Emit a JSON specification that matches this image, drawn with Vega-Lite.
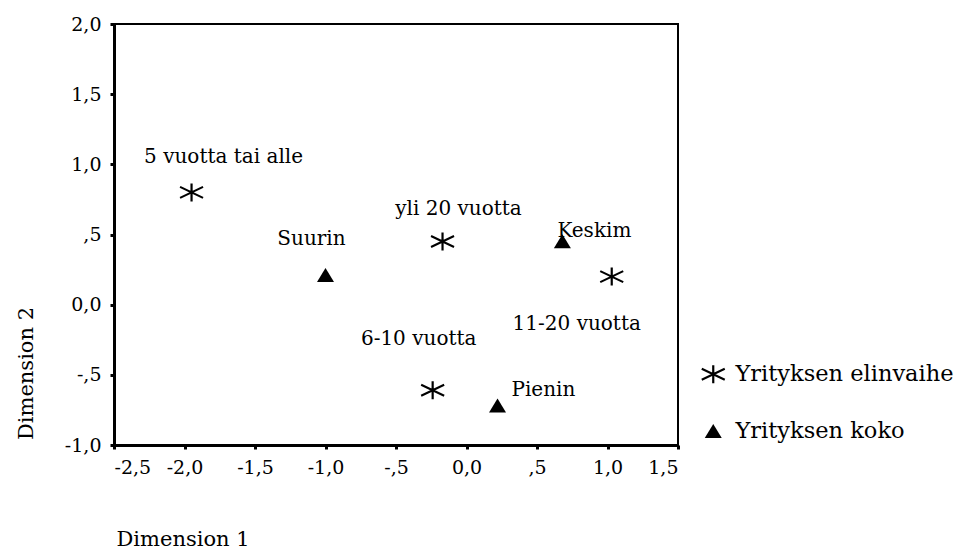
{
  "$schema": "https://vega.github.io/schema/vega-lite/v6.json",
  "autosize": {"type": "none"},
  "width": 564,
  "height": 421,
  "padding": {"left": 114, "top": 24, "right": 289, "bottom": 104},
  "background": "white",
  "config": {
    "view": {"stroke": "black", "strokeWidth": 2},
    "font": "DejaVu Serif",
    "axis": {
      "grid": false,
      "domainColor": "black",
      "domainWidth": 3,
      "tickColor": "black",
      "tickSize": 4,
      "tickWidth": 3,
      "labelFont": "DejaVu Serif",
      "labelFontSize": 19,
      "labelColor": "black",
      "labelPadding": 9,
      "titleFont": "DejaVu Serif",
      "titleFontSize": 21,
      "titleFontWeight": "normal",
      "titleColor": "black"
    },
    "legend": {
      "labelFont": "DejaVu Serif",
      "labelFontSize": 22.5,
      "labelColor": "black",
      "labelLimit": 400,
      "padding": 0
    }
  },
  "data": {
    "values": [
      {"label": "5 vuotta tai alle", "ryhma": "Yrityksen elinvaihe", "dim1": -1.95, "dim2": 0.8},
      {"label": "6-10 vuotta", "ryhma": "Yrityksen elinvaihe", "dim1": -0.24, "dim2": -0.61},
      {"label": "11-20 vuotta", "ryhma": "Yrityksen elinvaihe", "dim1": 1.03, "dim2": 0.2},
      {"label": "yli 20 vuotta", "ryhma": "Yrityksen elinvaihe", "dim1": -0.17, "dim2": 0.45},
      {"label": "Suurin", "ryhma": "Yrityksen koko", "dim1": -1.0, "dim2": 0.21},
      {"label": "Keskim", "ryhma": "Yrityksen koko", "dim1": 0.68, "dim2": 0.45},
      {"label": "Pienin", "ryhma": "Yrityksen koko", "dim1": 0.22, "dim2": -0.72}
    ]
  },
  "encoding": {
    "x": {
      "field": "dim1", "type": "quantitative",
      "scale": {"domain": [-2.5, 1.5], "nice": false, "zero": false},
      "axis": {
        "values": [-2.5, -2, -1.5, -1, -0.5, 0, 0.5, 1, 1.5],
        "labelExpr": "(datum.value < 0 ? '-' : '') + (datum.value == 0 ? '0' : (abs(datum.value) < 0.99 ? '' : toString(floor(abs(datum.value) + 0.001)))) + ',' + toString(round(abs(datum.value) * 10) % 10)",
        "title": "Dimension 1",
        "titleAnchor": "start",
        "titleAlign": "left",
        "titleBaseline": "alphabetic",
        "titleX": 2,
        "titleY": 100
      }
    },
    "y": {
      "field": "dim2", "type": "quantitative",
      "scale": {"domain": [-1, 2], "nice": false, "zero": false},
      "axis": {
        "values": [-1, -0.5, 0, 0.5, 1, 1.5, 2],
        "labelExpr": "(datum.value < 0 ? '-' : '') + (datum.value == 0 ? '0' : (abs(datum.value) < 0.99 ? '' : toString(floor(abs(datum.value) + 0.001)))) + ',' + toString(round(abs(datum.value) * 10) % 10)",
        "title": "Dimension 2",
        "titleAngle": -90,
        "titleAlign": "center",
        "titleBaseline": "alphabetic",
        "titleX": -82,
        "titleY": 349
      }
    }
  },
  "layer": [
    {
      "mark": {"type": "point", "filled": true, "color": "black", "strokeWidth": 0, "size": 100, "opacity": 1},
      "encoding": {
        "shape": {
          "field": "ryhma", "type": "nominal",
          "scale": {
            "domain": ["Yrityksen elinvaihe", "Yrityksen koko"],
            "range": [
              "M-0.22,-1.8L0.22,-1.8L0.22,1.8L-0.22,1.8ZM-2.21,-1.29L2.39,0.91L2.21,1.29L-2.39,-0.91ZM-2.39,0.91L2.21,-1.29L2.39,-0.91L-2.21,1.29Z",
              "M0,-1.45L1.7,1.35L-1.7,1.35Z"
            ]
          },
          "legend": {
            "title": null,
            "orient": "none",
            "legendX": 588,
            "legendY": 339,
            "direction": "vertical",
            "rowPadding": 34,
            "labelOffset": 11,
            "symbolSize": 100,
            "symbolStrokeWidth": 0,
            "symbolFillColor": "black",
            "labelBaseline": "middle"
          }
        }
      }
    },
    {
      "transform": [{"filter": "datum.label == '5 vuotta tai alle'"}],
      "mark": {"type": "text", "fontSize": 20, "color": "black", "align": "center", "baseline": "alphabetic", "dx": 32, "dy": -29},
      "encoding": {"text": {"field": "label"}}
    },
    {
      "transform": [{"filter": "datum.label == 'yli 20 vuotta'"}],
      "mark": {"type": "text", "fontSize": 20, "color": "black", "align": "center", "baseline": "alphabetic", "dx": 16, "dy": -27},
      "encoding": {"text": {"field": "label"}}
    },
    {
      "transform": [{"filter": "datum.label == 'Suurin'"}],
      "mark": {"type": "text", "fontSize": 20, "color": "black", "align": "center", "baseline": "alphabetic", "dx": -14, "dy": -30},
      "encoding": {"text": {"field": "label"}}
    },
    {
      "transform": [{"filter": "datum.label == 'Keskim'"}],
      "mark": {"type": "text", "fontSize": 20, "color": "black", "align": "left", "baseline": "alphabetic", "dx": -5, "dy": -5},
      "encoding": {"text": {"field": "label"}}
    },
    {
      "transform": [{"filter": "datum.label == '11-20 vuotta'"}],
      "mark": {"type": "text", "fontSize": 20, "color": "black", "align": "center", "baseline": "alphabetic", "dx": -35, "dy": 53},
      "encoding": {"text": {"field": "label"}}
    },
    {
      "transform": [{"filter": "datum.label == '6-10 vuotta'"}],
      "mark": {"type": "text", "fontSize": 20, "color": "black", "align": "center", "baseline": "alphabetic", "dx": -14, "dy": -45},
      "encoding": {"text": {"field": "label"}}
    },
    {
      "transform": [{"filter": "datum.label == 'Pienin'"}],
      "mark": {"type": "text", "fontSize": 20, "color": "black", "align": "left", "baseline": "alphabetic", "dx": 14, "dy": -10},
      "encoding": {"text": {"field": "label"}}
    }
  ]
}
